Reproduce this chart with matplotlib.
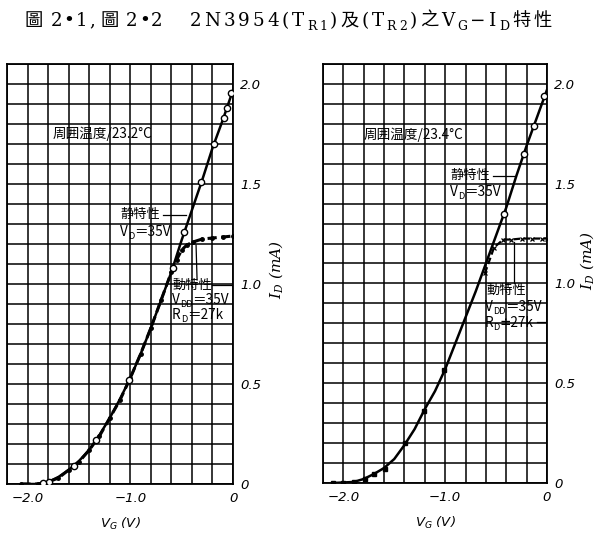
import numpy as np
import matplotlib
matplotlib.use("Agg")
import matplotlib.pyplot as plt
from matplotlib.transforms import IdentityTransform

plt.rcParams['font.family'] = ['DejaVu Sans', 'Noto Sans CJK JP']

# ---- data ----
# Fig 2-1 (TR1)
static_v_L = [-0.02, -0.06, -0.09, -0.185, -0.31, -0.475, -0.585, -1.01, -1.33, -1.55, -1.79, -1.85]
static_i_L = [1.957, 1.88, 1.83, 1.70, 1.51, 1.26, 1.08, 0.52, 0.22, 0.09, 0.01, 0.003]
curve_v_L = [-2.06, -1.9, -1.8, -1.7, -1.6, -1.5, -1.4, -1.3, -1.2, -1.1, -1.0,
             -0.9, -0.8, -0.7, -0.6, -0.5, -0.4, -0.3, -0.2, -0.1, 0.0]
curve_i_L = [0.0, 0.0, 0.01, 0.035, 0.07, 0.115, 0.17, 0.245, 0.33, 0.425, 0.53,
             0.65, 0.78, 0.92, 1.06, 1.22, 1.37, 1.52, 1.68, 1.82, 1.97]
dyn_v_L = [-2.06, -1.9, -1.8, -1.7, -1.6, -1.5, -1.4, -1.3, -1.2, -1.1, -1.0,
           -0.9, -0.8, -0.7, -0.6, -0.55, -0.5, -0.45, -0.39, -0.3, -0.2, -0.1, 0.0]
dyn_i_L = [0.0, 0.0, 0.01, 0.03, 0.07, 0.11, 0.17, 0.24, 0.33, 0.42, 0.53,
           0.65, 0.78, 0.92, 1.06, 1.12, 1.17, 1.195, 1.21, 1.225, 1.23, 1.235, 1.24]

# Fig 2-2 (TR2)
static_v_R = [-0.026, -0.125, -0.23, -0.42]
static_i_R = [1.94, 1.79, 1.65, 1.35]
curve_v_R = [-2.1, -1.9, -1.8, -1.7, -1.6, -1.5, -1.4, -1.3, -1.2, -1.1, -1.0,
             -0.9, -0.8, -0.7, -0.6, -0.5, -0.4, -0.3, -0.2, -0.1, 0.0]
curve_i_R = [0.0, 0.005, 0.02, 0.045, 0.075, 0.12, 0.19, 0.27, 0.37, 0.46, 0.57,
             0.70, 0.83, 0.96, 1.10, 1.24, 1.38, 1.54, 1.69, 1.83, 1.97]
sq_v_R = [-1.01, -1.21, -1.39, -1.59, -1.70, -1.79, -1.9, -2.0, -2.1]
sq_i_R = [0.565, 0.36, 0.2, 0.07, 0.045, 0.02, 0.006, 0.0, 0.0]
dyn_v_R = [-0.61, -0.52, -0.43, -0.35, -0.25, -0.15, -0.05, 0.0]
dyn_i_R = [1.05, 1.18, 1.22, 1.22, 1.225, 1.225, 1.225, 1.225]

temps = ['周囲温度/23.2°C', '周囲温度/23.4°C']

fig = plt.figure(figsize=(6.0, 5.37), dpi=100)
axL = fig.add_axes([0.0117, 0.0987, 0.3767, 0.7821])
axR = fig.add_axes([0.5383, 0.1006, 0.3733, 0.7803])
renderer = fig.canvas.get_renderer()
PX = fig.dpi / 72.0


def rich_text(x, y, parts, size, family, transform, tracking=0.0, sub_scale=0.68):
    """Write text pieces one after another; (s, 1) pieces are subscripts,
    (number, 'gap') pieces are blank pixels. y is the vertical centre."""
    px, py = transform.transform((x, y))
    py -= 0.36 * size * PX
    for s, kind in parts:
        if kind == 'gap':
            px += s
            continue
        fs = size * sub_scale if kind else size
        dy = -0.22 * size * PX if kind else 0
        chars = list(s) if tracking else [s]
        for ch in chars:
            if ch == ' ':
                px += 0.25 * fs * PX + tracking
                continue
            t = fig.text(px, py + dy, ch, transform=IdentityTransform(),
                         fontsize=fs, family=family, va='baseline', ha='left')
            px += t.get_window_extent(renderer).width + tracking


def setup(ax):
    ax.set_xlim(-2.2, 0)
    ax.set_ylim(0, 2.1)
    ax.set_xticks(np.arange(-2.2, 0.01, 0.2), minor=True)
    ax.set_yticks(np.arange(0, 2.11, 0.1), minor=True)
    ax.set_xticks([-2.0, -1.0, 0.0])
    ax.set_xticklabels(['−2.0', '−1.0', '0'])
    ax.yaxis.tick_right()
    ax.set_yticks([0, 0.5, 1.0, 1.5, 2.0])
    ax.set_yticklabels(['0', '0.5', '1.0', '1.5', '2.0'])
    ax.tick_params(which='both', length=0)
    ax.tick_params(axis='y', pad=5, labelsize=9.5)
    ax.tick_params(axis='x', pad=6, labelsize=9.5)
    for lab in ax.get_xticklabels() + ax.get_yticklabels():
        lab.set_style('italic')
    ax.grid(which='both', color='black', linewidth=1.1)
    for sp in ax.spines.values():
        sp.set_linewidth(1.3)
    ax.set_axisbelow(True)
    ax.set_ylabel('$I_D$ (mA)', rotation=90, fontsize=11, style='italic',
                  math_fontfamily='dejavuserif', family='DejaVu Serif')
    ax.yaxis.set_label_position('right')
    ax.set_xlabel('$V_G$ (V)', fontsize=9.5, style='italic',
                  math_fontfamily='dejavusans')
    ax.xaxis.set_label_coords(0.5, -0.075)


setup(axL)
setup(axR)
axL.yaxis.set_label_coords(1.15, 0.51)
axR.yaxis.set_label_coords(1.14, 0.53)

cjk = ['Noto Sans CJK JP', 'DejaVu Sans']

# left panel
axL.plot(curve_v_L, curve_i_L, color='black', lw=1.8, zorder=3)
axL.plot(dyn_v_L, dyn_i_L, color='black', lw=2.2, ls=(0, (3, 1.5)), marker='o',
         ms=2.5, zorder=3)
axL.plot(static_v_L, static_i_L, ls='none', marker='o', ms=4.5, mfc='white',
         mec='black', mew=1.0, zorder=4)
axL.text(-1.76, 1.75, temps[0], family=cjk, fontsize=9.8, va='center')
axL.text(-1.10, 1.35, '静特性', family=cjk, fontsize=9.5, va='center')
axL.plot([-0.68, -0.46], [1.345, 1.345], color='black', lw=0.9)
rich_text(-1.10, 1.265, [('V', 0), ('D', 1), ('＝35V', 0)], 9.8, cjk, axL.transData)
axL.plot([-0.36, -0.35], [1.195, 1.02], color='black', lw=0.9)
axL.text(-0.594, 0.995, '動特性', family=cjk, fontsize=9.5, va='center')
axL.plot([-0.2, -0.01], [0.995, 0.995], color='black', lw=0.9)
rich_text(-0.594, 0.925, [('V', 0), ('DD', 1), ('＝35V', 0)], 9.8, cjk, axL.transData)
rich_text(-0.594, 0.85, [('R', 0), ('D', 1), ('＝27k', 0)], 9.8, cjk, axL.transData)

# right panel
axR.plot(curve_v_R, curve_i_R, color='black', lw=1.8, zorder=3)
axR.plot(dyn_v_R, dyn_i_R, color='black', lw=1.6, ls=(0, (3, 1.5)), marker='x',
         ms=3, mew=0.9, zorder=3)
axR.plot(sq_v_R, sq_i_R, ls='none', marker='s', ms=3.5, color='black', zorder=4)
axR.plot(static_v_R, static_i_R, ls='none', marker='o', ms=4.5, mfc='white',
         mec='black', mew=1.0, zorder=4)
axR.text(-1.80, 1.745, temps[1], family=cjk, fontsize=9.8, va='center')
axR.text(-0.95, 1.54, '静特性', family=cjk, fontsize=9.5, va='center')
axR.plot([-0.53, -0.31], [1.54, 1.54], color='black', lw=0.9)
rich_text(-0.95, 1.465, [('V', 0), ('D', 1), ('＝35V', 0)], 9.8, cjk, axR.transData)
axR.plot([-0.32, -0.32], [1.21, 1.0], color='black', lw=0.9)
axR.text(-0.59, 0.965, '動特性', family=cjk, fontsize=9.5, va='center')
rich_text(-0.61, 0.885, [('V', 0), ('DD', 1), ('＝35V', 0)], 9.8, cjk, axR.transData)
rich_text(-0.61, 0.805, [('R', 0), ('D', 1), ('≐27k', 0)], 9.8, cjk, axR.transData)
axR.plot([-0.1, -0.01], [0.805, 0.805], color='black', lw=0.9)

# title, in two runs
title_fam = ['DejaVu Serif', 'Noto Sans CJK TC']
title_head = [('圖', 0), (' 2•1', 0), (',', 0), (4, 'gap'), ('圖', 0), (' 2•2', 0)]
title_tail = [('2N3954(T', 0), ('R1', 1), (')及(T', 0), ('R2', 1), (')之V', 0),
              ('G', 1), ('−I', 0), ('D', 1), ('特性', 0)]
rich_text(25 / 600, 1 - 19 / 537, title_head, 13.2, title_fam, fig.transFigure,
          tracking=1.4)
rich_text(190 / 600, 1 - 19 / 537, title_tail, 13.2, title_fam, fig.transFigure,
          tracking=2.9)

fig.savefig('out.png', dpi=100)
